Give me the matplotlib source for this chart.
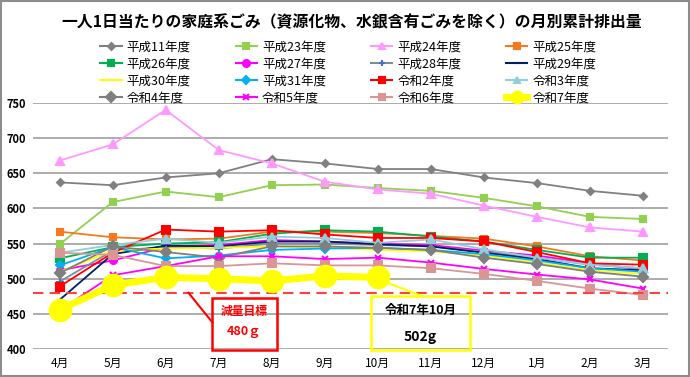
import matplotlib
matplotlib.use('Agg')
import matplotlib.pyplot as plt
from matplotlib.patches import Rectangle
from matplotlib.lines import Line2D

plt.rcParams['font.family'] = ['Noto Sans CJK JP', 'DejaVu Sans']

months = ['4月', '5月', '6月', '7月', '8月', '9月', '10月', '11月', '12月', '1月', '2月', '3月']

h11 = [637, 633, 644, 650, 670, 664, 656, 656, 644, 636, 625, 618]
h23 = [549, 609, 624, 616, 633, 634, 629, 625, 615, 603, 588, 585]
h24 = [668, 691, 740, 683, 664, 638, 627, 621, 604, 588, 573, 567]
h25 = [567, 559, 556, 557, 567, 567, 565, 561, 557, 546, 532, 526]
h26 = [529, 545, 550, 552, 564, 569, 567, 560, 553, 541, 530, 530]
h27 = [512, 526, 545, 548, 555, 553, 550, 548, 540, 533, 522, 513]
h28 = [496, 540, 545, 543, 550, 550, 548, 546, 538, 530, 520, 515]
h29 = [470, 535, 547, 546, 553, 553, 549, 546, 537, 528, 515, 512]
h30 = [510, 540, 543, 544, 546, 544, 541, 539, 533, 523, 512, 507]
h31 = [519, 545, 529, 533, 541, 543, 544, 541, 535, 526, 515, 510]
r2 = [489, 537, 570, 567, 569, 563, 558, 558, 553, 538, 522, 520]
r3 = [537, 548, 557, 551, 560, 558, 551, 556, 542, 530, 520, 515]
r4 = [508, 546, 538, 530, 546, 546, 544, 541, 530, 521, 510, 503]
r5 = [455, 505, 518, 532, 532, 528, 530, 523, 514, 506, 499, 486]
r6 = [537, 534, 518, 518, 522, 519, 519, 515, 507, 497, 486, 477]
r7 = [456, 491, 502, 500, 497, 504, 502]

target = 480

# (label, values, color, marker, markersize, marker color)
series = [
    ('平成11年度', h11, '#808080', 'D', 3.5, '#808080'),
    ('平成23年度', h23, '#92D050', 's', 5, '#92D050'),
    ('平成24年度', h24, '#FF99FF', '^', 5.5, '#FF99FF'),
    ('平成25年度', h25, '#F47920', 's', 5, '#F47920'),
    ('平成26年度', h26, '#00B050', 's', 5.5, '#00B050'),
    ('平成27年度', h27, '#FF00FF', 'o', 5, '#FF00FF'),
    ('平成28年度', h28, '#7F8C99', '+', 6, '#4472C4'),
    ('平成29年度', h29, '#002060', '_', 4, '#002060'),
    ('平成30年度', h30, '#FFFF00', None, 0, '#FFFF00'),
    ('平成31年度', h31, '#00B0F0', 'D', 4, '#00B0F0'),
    ('令和2年度', r2, '#FF0000', 's', 5.5, '#FF0000'),
    ('令和3年度', r3, '#92CDDC', '^', 6, '#92CDDC'),
    ('令和4年度', r4, '#7F7F7F', 'D', 5.5, '#7F7F7F'),
    ('令和5年度', r5, '#FF00FF', 'x', 5, '#FF00FF'),
    ('令和6年度', r6, '#DA9694', 's', 5.5, '#DA9694'),
]

fig = plt.figure(figsize=(6.9, 3.77), dpi=100)
ax = fig.add_axes([0.048, 0.074, 0.920, 0.653])

x = list(range(len(months)))
handles = []
for label, vals, color, marker, ms, mcolor in series:
    ax.plot(x[:len(vals)], vals, color=color, lw=1.3, marker=marker, ms=ms,
            markerfacecolor=mcolor, markeredgecolor=mcolor, mew=1.5, zorder=3)
    handles.append(Line2D([], [], color=color, lw=1.5, marker=marker, ms=min(ms, 5),
                          markerfacecolor=mcolor, markeredgecolor=mcolor, mew=1.5, label=label))
ax.plot(x[:len(r7)], r7, color='#FFFF00', lw=5, marker='o', ms=16,
        markerfacecolor='#FFFF00', markeredgecolor='#FFFF00', zorder=5)
handles.append(Line2D([], [], color='#FFFF00', lw=5, marker='o', ms=9,
                      markerfacecolor='#FFFF00', markeredgecolor='#FFFF00', label='令和7年度'))

ax.axhline(target, color='#FF4040', lw=1.5, ls=(0, (5, 3)), zorder=4)

ax.set_xlim(-0.5, 11.47)
ax.set_ylim(400, 750)
ax.set_yticks(range(400, 751, 50))
ax.set_xticks(x)
ax.set_xticklabels(months, fontsize=8.5)
ax.tick_params(axis='y', labelsize=8, length=0, pad=5)
ax.tick_params(axis='x', length=0, pad=6)
for lab in ax.get_yticklabels():
    lab.set_fontweight('bold')
ax.grid(axis='y', color='#A6A6A6', lw=1.3)
ax.set_axisbelow(True)
for s in ax.spines.values():
    s.set_visible(False)

# target callout
ax.add_patch(Rectangle((2.88, 398.5), 1.21, 74, fill=False, ec='#FF0000', lw=1.8, clip_on=False, zorder=6))
ax.plot([2.43, 2.88], [target, 438], color='#FF0000', lw=1.5, zorder=6, clip_on=False)
ax.text(3.48, 453, '減量目標', color='#FF0000', fontsize=8.5, fontweight='bold', ha='center', va='center', zorder=7)
ax.text(3.48, 425, '480ｇ', color='#FF0000', fontsize=9, fontweight='bold', ha='center', va='center', zorder=7)

# latest month callout
ax.add_patch(Rectangle((5.88, 398.5), 1.86, 77, fill=False, ec='#FFFF00', lw=1.8, clip_on=False, zorder=6))
ax.plot([6.15, 6.83], [495, 475.5], color='#FFFF00', lw=1.5, zorder=6)
ax.text(6.8, 455, '令和7年10月', color='black', fontsize=9, fontweight='bold', ha='center', va='center', zorder=7)
ax.text(6.8, 417, '502g', color='black', fontsize=10, fontweight='bold', ha='center', va='center', zorder=7)

fig.text(0.51, 1 - 22 / 377, '一人1日当たりの家庭系ごみ（資源化物、水銀含有ごみを除く）の月別累計排出量',
         ha='center', va='center', fontsize=11.4, fontweight='bold')

# legend laid out row by row
order = [r * 4 + c for c in range(4) for r in range(4)]
fig.legend([handles[i] for i in order], [handles[i].get_label() for i in order],
           ncol=4, loc='upper center', bbox_to_anchor=(0.505, 0.906), frameon=False,
           fontsize=9, handlelength=1.7, handletextpad=0.4, columnspacing=3.6,
           labelspacing=0.32, borderaxespad=0)

fig.add_artist(Rectangle((0.001, 0.002), 0.997, 0.996, transform=fig.transFigure,
                         fill=False, ec='#8C8C8C', lw=1.5))

fig.savefig('out.png', dpi=100)
